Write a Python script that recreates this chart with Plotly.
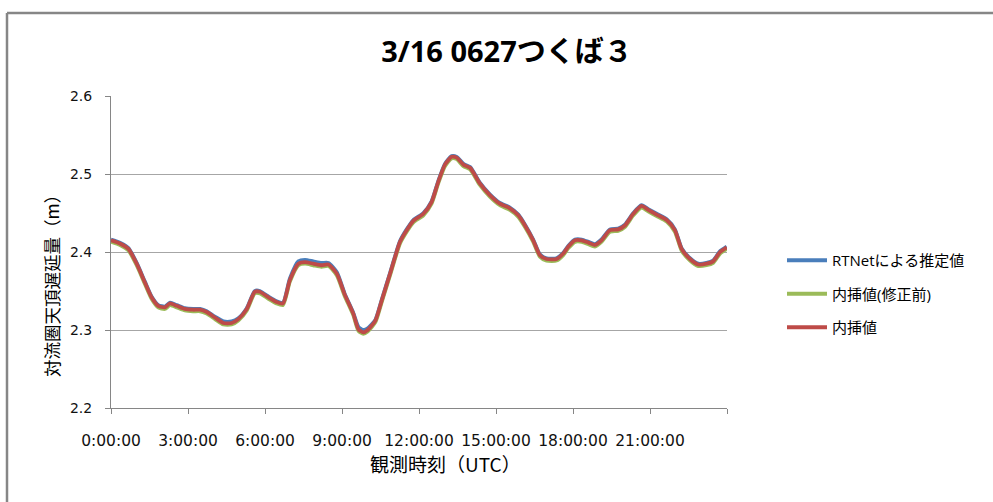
import plotly.graph_objects as go

# Observation time in hours (UTC) and zenith tropospheric delay (m)
hours = [0, 0.35, 0.68, 1.0, 1.32, 1.58, 1.84, 2.1, 2.3, 2.56, 2.88, 3.2, 3.47, 3.73,
         4.05, 4.38, 4.7, 4.96, 5.29, 5.6, 5.8, 6.13, 6.45, 6.7, 6.97, 7.3, 7.56, 7.88,
         8.2, 8.47, 8.8, 9.1, 9.44, 9.64, 9.83, 10.0, 10.3, 10.55, 10.87, 11.26, 11.52,
         11.78, 12.17, 12.49, 12.75, 13.01, 13.27, 13.47, 13.73, 13.99, 14.37, 14.76,
         15.15, 15.54, 15.87, 16.13, 16.45, 16.71, 16.97, 17.36, 17.62, 17.82, 18.08,
         18.34, 18.6, 18.85, 19.11, 19.44, 19.76, 20.02, 20.35, 20.67, 20.93, 21.26,
         21.65, 21.97, 22.23, 22.56, 22.88, 23.2, 23.46, 23.73, 23.99]

rtnet = [2.416, 2.412, 2.405, 2.386, 2.362, 2.343, 2.332, 2.330, 2.335, 2.332, 2.328,
         2.327, 2.327, 2.324, 2.317, 2.311, 2.311, 2.315, 2.328, 2.350, 2.350, 2.343,
         2.337, 2.335, 2.366, 2.388, 2.390, 2.388, 2.386, 2.386, 2.374, 2.347, 2.322,
         2.304, 2.300, 2.302, 2.313, 2.339, 2.373, 2.414, 2.429, 2.441, 2.450, 2.465,
         2.491, 2.513, 2.523, 2.522, 2.513, 2.509, 2.489, 2.474, 2.463, 2.457, 2.448,
         2.435, 2.416, 2.397, 2.392, 2.392, 2.399, 2.408, 2.416, 2.416, 2.413, 2.410,
         2.416, 2.429, 2.430, 2.435, 2.450, 2.460, 2.455, 2.449, 2.442, 2.429, 2.405,
         2.392, 2.385, 2.386, 2.389, 2.401, 2.407]

interp_before = [2.413, 2.409, 2.402, 2.383, 2.359, 2.340, 2.329, 2.327, 2.332, 2.329,
                 2.325, 2.324, 2.324, 2.321, 2.314, 2.307, 2.307, 2.312, 2.325, 2.347,
                 2.347, 2.340, 2.334, 2.332, 2.362, 2.383, 2.385, 2.383, 2.381, 2.382,
                 2.370, 2.344, 2.319, 2.299, 2.295, 2.298, 2.310, 2.336, 2.370, 2.411,
                 2.426, 2.438, 2.447, 2.462, 2.488, 2.510, 2.520, 2.519, 2.510, 2.506,
                 2.486, 2.471, 2.460, 2.454, 2.445, 2.432, 2.413, 2.394, 2.389, 2.389,
                 2.396, 2.405, 2.413, 2.413, 2.410, 2.407, 2.413, 2.426, 2.427, 2.432,
                 2.447, 2.457, 2.452, 2.446, 2.439, 2.426, 2.402, 2.389, 2.382, 2.383,
                 2.386, 2.398, 2.404]

interp = [2.415, 2.411, 2.404, 2.385, 2.361, 2.342, 2.331, 2.329, 2.334, 2.331, 2.327,
          2.326, 2.326, 2.323, 2.316, 2.309, 2.309, 2.314, 2.327, 2.349, 2.349, 2.342,
          2.336, 2.334, 2.364, 2.385, 2.387, 2.385, 2.383, 2.384, 2.372, 2.346, 2.321,
          2.301, 2.297, 2.300, 2.312, 2.338, 2.372, 2.413, 2.428, 2.440, 2.449, 2.464,
          2.490, 2.512, 2.522, 2.521, 2.512, 2.508, 2.488, 2.473, 2.462, 2.456, 2.447,
          2.434, 2.415, 2.396, 2.391, 2.391, 2.398, 2.407, 2.415, 2.415, 2.412, 2.409,
          2.415, 2.428, 2.429, 2.434, 2.449, 2.459, 2.454, 2.448, 2.441, 2.428, 2.404,
          2.391, 2.384, 2.385, 2.388, 2.400, 2.406]

series_names = ["RTNetによる推定値", "内挿値(修正前)", "内挿値"]
series_values = [rtnet, interp_before, interp]
series_colors = ["#4a7ebb", "#9bbb59", "#be4b48"]

x_tick_hours = [0, 3, 6, 9, 12, 15, 18, 21, 24]
x_tick_labels = ["0:00:00", "3:00:00", "6:00:00", "9:00:00", "12:00:00",
                 "15:00:00", "18:00:00", "21:00:00", ""]
y_tick_values = [2.2, 2.3, 2.4, 2.5, 2.6]

W, H = 993, 502
L, R, T, B = 111, 266, 96, 94
PW, PH = W - L - R, H - T - B


def px(x):
    return (x - L) / PW


def py(y):
    return (H - B - y) / PH


SANS = "'Open Sans', 'Noto Sans CJK JP', sans-serif"
TICK = "'DejaVu Sans', 'Noto Sans CJK JP', sans-serif"
JP = "'Noto Sans CJK JP', sans-serif"
AXIS_GREY = "#868686"

fig = go.Figure()
for i, (name, vals, col) in enumerate(zip(series_names, series_values, series_colors)):
    fig.add_trace(go.Scatter(
        x=hours, y=vals, name=name, mode="lines",
        line=dict(color=col, width=3.8, shape="spline", smoothing=0.6),
        legendgroup=f"g{i}",
    ))

fig.update_layout(
    width=W, height=H, autosize=False,
    margin=dict(l=L, r=R, t=T, b=B, pad=0),
    paper_bgcolor="white", plot_bgcolor="white",
    font=dict(family=SANS, color="#000000"),
    title=dict(text="<b>3/16 0627つくば３</b>", x=507 / W, xref="container", xanchor="center",
               y=1 - 52 / H, yref="container", yanchor="middle",
               font=dict(family=SANS, size=29, color="#000000")),
    showlegend=True,
    legend=dict(x=px(782), y=py(244), xanchor="left", yanchor="top",
                font=dict(family=SANS, size=15, color="#000000"),
                tracegroupgap=11, itemwidth=40, bgcolor="rgba(0,0,0,0)",
                traceorder="grouped"),
    xaxis=dict(range=[0, 24], tickmode="array", tickvals=x_tick_hours, ticktext=x_tick_labels,
               showgrid=False, zeroline=False, showline=True, linecolor=AXIS_GREY, linewidth=1,
               ticks="outside", ticklen=5, tickcolor=AXIS_GREY, tickwidth=1,
               ticklabelstandoff=13,
               tickfont=dict(family=TICK, size=15.5, color="#111111")),
    yaxis=dict(range=[2.2, 2.6], tickmode="array", tickvals=y_tick_values,
               ticktext=[f"{v:.1f}" for v in y_tick_values],
               showgrid=True, gridcolor="#a6a6a6", gridwidth=1, zeroline=False,
               showline=True, linecolor=AXIS_GREY, linewidth=1,
               ticks="outside", ticklen=5, tickcolor=AXIS_GREY, tickwidth=1,
               ticklabelstandoff=10,
               tickfont=dict(family=TICK, size=14, color="#111111")),
    annotations=[
        dict(text="対流圏天頂遅延量（m）", xref="paper", yref="paper", x=px(51), y=py(282),
             textangle=-90, showarrow=False, xanchor="center", yanchor="middle",
             font=dict(family=JP, size=17.5, color="#000000")),
        dict(text="観測時刻（UTC）", xref="paper", yref="paper", x=px(446), y=py(463),
             showarrow=False, xanchor="center", yanchor="middle",
             font=dict(family=JP, size=19, color="#000000")),
    ],
    shapes=[
        dict(type="line", xref="paper", yref="paper", x0=px(7), x1=px(W + 2), y0=py(13), y1=py(13),
             line=dict(color=AXIS_GREY, width=2.5)),
        dict(type="line", xref="paper", yref="paper", x0=px(7), x1=px(7), y0=py(13), y1=py(H + 2),
             line=dict(color=AXIS_GREY, width=2.5)),
    ],
)

fig.write_html("out.html")
